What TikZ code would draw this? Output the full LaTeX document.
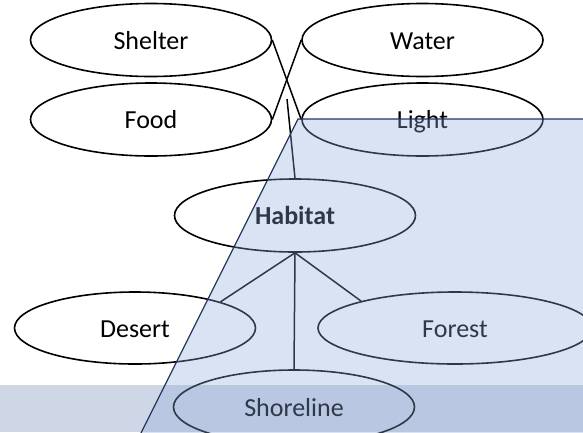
\documentclass[tikz,border=0pt]{standalone}
\usepackage{fontspec}
\setmainfont{Carlito}
\usetikzlibrary{shapes.geometric}
\definecolor{panelfill}{HTML}{8FAADC}
\definecolor{paneledge}{HTML}{203864}
\definecolor{bandfill}{HTML}{CFD6E6}
\begin{document}
\begin{tikzpicture}[x=1pt,y=-1pt,
  topic/.style={ellipse, draw=black, line width=1.6pt, inner sep=0pt,
    minimum width=241pt, minimum height=73pt,
    font=\fontsize{26}{30}\selectfont, text height=18.6pt, text depth=0pt},
  link/.style={draw=black, line width=1.5pt}]
\useasboundingbox (0,0) rectangle (583,432);
\clip (0,0) rectangle (583,432);

% horizontal band along the bottom
\fill[bandfill] (0,385) rectangle (583,432);

% needs
\node[topic] (shelter) at (151,40)    {Shelter};
\node[topic] (water)   at (422.5,40)  {Water};
\node[topic] (food)    at (151,119.5) {Food};
\node[topic] (light)   at (422.5,119.5) {Light};

% central concept and kinds of habitat
\node[topic, font=\fontsize{26}{30}\selectfont\bfseries] (habitat) at (295,215.5) {Habitat};
\node[topic, minimum height=72pt] (desert) at (135,328) {Desert};
\node[topic, minimum width=274pt, minimum height=72pt] (forest) at (455,328) {Forest};
\node[topic, minimum height=74pt] (shore) at (294,407) {Shoreline};

% connectors
\coordinate (join) at (287,99);
\draw[link] (shelter.east) -- (light.west);
\draw[link] (food.east) -- (water.west);
\draw[link] (join) -- (habitat.north);
\draw[link] (habitat.south) -- (desert.17);
\draw[link] (habitat.south) -- (forest.164);
\draw[link] (habitat.south) -- (shore.north);

% translucent panel laid over the lower right
\filldraw[fill=panelfill, fill opacity=0.33, draw=paneledge, line width=1.3pt]
  (298,119) -- (600,119) -- (600,450) -- (132.5,450) -- cycle;
\end{tikzpicture}
\end{document}
